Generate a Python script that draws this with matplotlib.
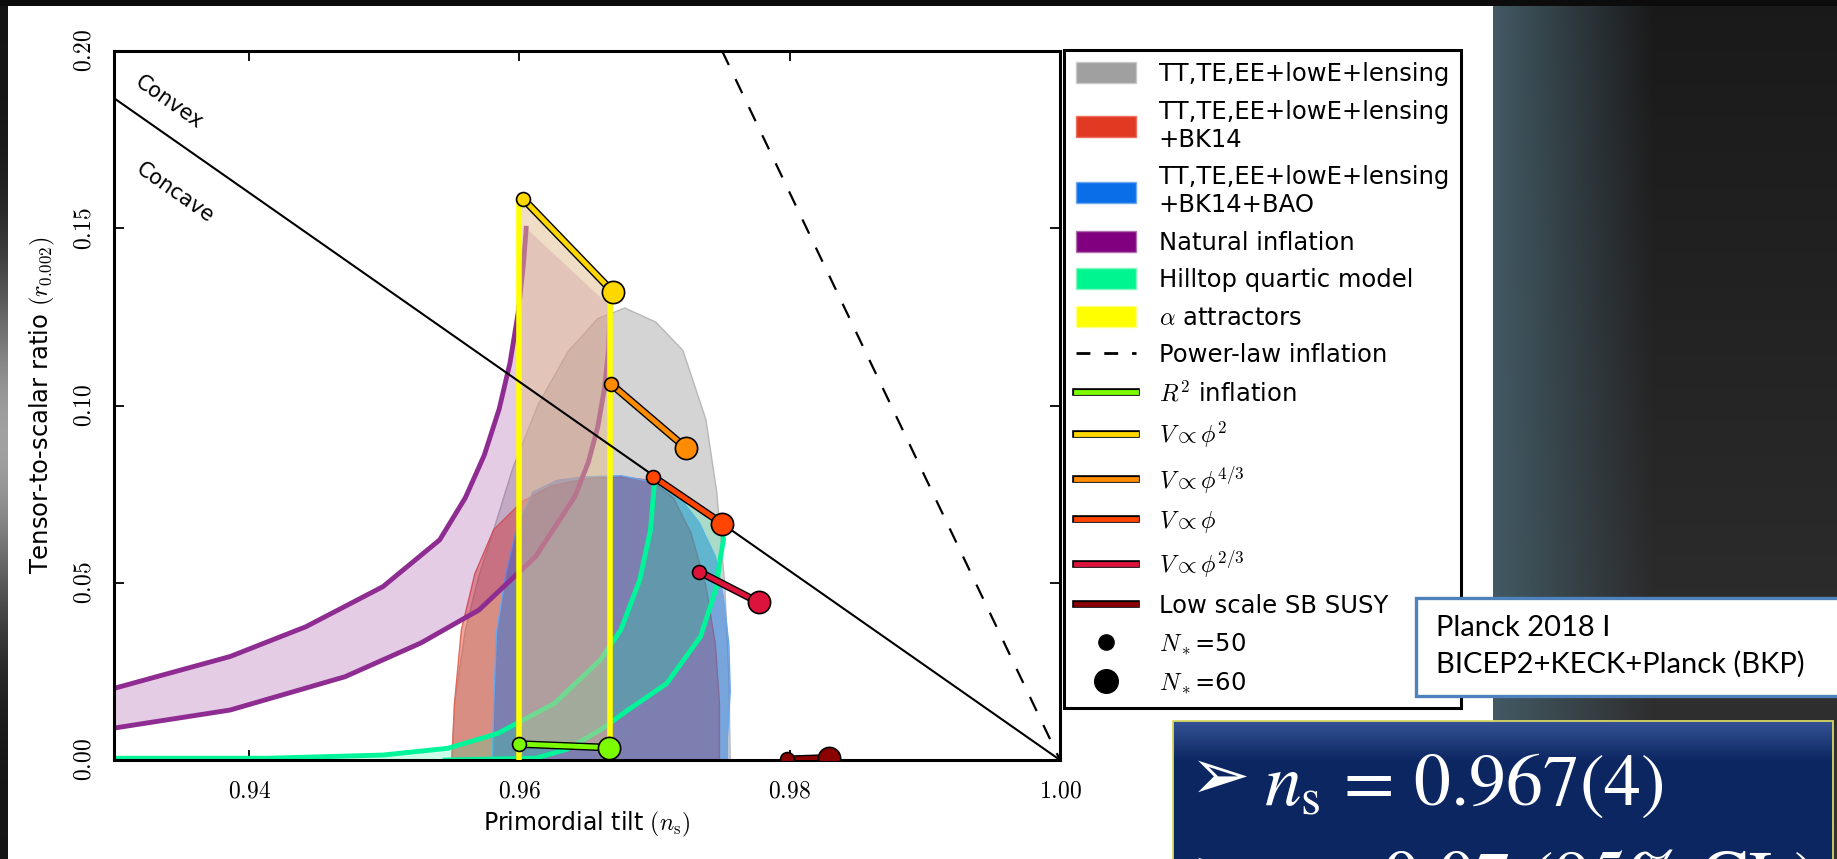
import numpy as np
import matplotlib
matplotlib.use("Agg")
import matplotlib.pyplot as plt
import matplotlib.patheffects as pe
from matplotlib.patches import Patch, Rectangle, Polygon
from matplotlib.lines import Line2D
from matplotlib.colors import to_rgba
from matplotlib.ticker import FuncFormatter

plt.rcParams['mathtext.fontset'] = 'cm'
plt.rcParams['font.family'] = 'DejaVu Sans'

W, H = 1837, 859

# --- Planck constraint contours, boundary points (n_s, r) ---
gray_ns = [0.9550, 0.9552, 0.9560, 0.9570, 0.9581, 0.9595, 0.9614, 0.9636, 0.9658, 0.9678,
           0.9701, 0.9721, 0.9738, 0.9746, 0.9752, 0.9755, 0.9756]
gray_r = [0.0, 0.0161, 0.0366, 0.0520, 0.0650, 0.0822, 0.1004, 0.1152, 0.1245, 0.1275,
          0.1235, 0.1155, 0.0960, 0.0756, 0.0490, 0.0227, 0.0]

red_ns = [0.9550, 0.9552, 0.9557, 0.9567, 0.9581, 0.9602, 0.9623, 0.9652, 0.9675,
          0.9697, 0.9714, 0.9727, 0.9738, 0.9745, 0.9748, 0.9748]
red_r = [0.0, 0.0161, 0.0366, 0.0525, 0.0650, 0.0729, 0.0772, 0.0795, 0.0799,
         0.0789, 0.0739, 0.0640, 0.0491, 0.0326, 0.0161, 0.0]

blue_ns = [0.9580, 0.9581, 0.9583, 0.9590, 0.9599, 0.9610, 0.9628, 0.9649, 0.9675,
           0.9702, 0.9719, 0.9733, 0.9745, 0.9751, 0.9755, 0.9756, 0.9754, 0.9754]
blue_r = [0.0, 0.0161, 0.0359, 0.0525, 0.0673, 0.0756, 0.0789, 0.0799, 0.0802,
          0.0782, 0.0739, 0.0670, 0.0574, 0.0459, 0.0326, 0.0194, 0.0062, 0.0]

# --- natural inflation band ---
nat_a_ns = [0.9300, 0.9386, 0.9442, 0.9499, 0.9541, 0.9560, 0.9574, 0.9585, 0.9593, 0.9599, 0.9603, 0.9605]
nat_a_r = [0.0202, 0.0292, 0.0376, 0.0489, 0.0621, 0.0740, 0.0860, 0.0990, 0.1120, 0.1260, 0.1400, 0.1500]
nat_b_ns = [0.9300, 0.9386, 0.9471, 0.9527, 0.9570, 0.9612, 0.9641, 0.9651, 0.9658, 0.9663, 0.9666, 0.9667]
nat_b_r = [0.0090, 0.0141, 0.0235, 0.0330, 0.0423, 0.0574, 0.0743, 0.0840, 0.0940, 0.1050, 0.1160, 0.1280]

# --- hilltop quartic band ---
hill_a_ns = [0.9300, 0.9414, 0.9499, 0.9547, 0.9584, 0.9626, 0.9660, 0.9675, 0.9689, 0.9697, 0.9700]
hill_a_r = [0.0005, 0.0005, 0.0014, 0.0033, 0.0075, 0.0160, 0.0283, 0.0367, 0.0508, 0.0649, 0.0790]
hill_b_ns = [0.9545, 0.9612, 0.9635, 0.9660, 0.9680, 0.9709, 0.9734, 0.9746, 0.9748, 0.9751, 0.9750]
hill_b_r = [0.0, 0.0005, 0.0030, 0.0085, 0.0140, 0.0216, 0.0348, 0.0489, 0.0555, 0.0621, 0.0658]

# --- alpha attractors (N=50, N=60) ---
attr_ns = [0.9600, 0.9667]
attr_r_low = [0.0, 0.0]
attr_r_high = [0.158, 0.132]

# --- reference lines ---
powerlaw_ns = [0.975, 1.0]
powerlaw_r = [0.20, 0.0]
convex_ns = [0.93, 1.0]
convex_r = [0.1867, 0.0]

# --- single-field models: N*=50 and N*=60 points ---
model_labels = [r'$R^2$ inflation', r'$V\propto\phi^2$', r'$V\propto\phi^{4/3}$',
                r'$V\propto\phi$', r'$V\propto\phi^{2/3}$', 'Low scale SB SUSY']
model_colors = ['#7cfc00', '#ffd700', '#ff8c00', '#ff4500', '#dc143c', '#8b0000']
model_ns50 = [0.9600, 0.9603, 0.9668, 0.9699, 0.9733, 0.9798]
model_r50 = [0.0045, 0.1582, 0.1060, 0.0799, 0.0531, 0.0002]
model_ns60 = [0.9666, 0.9669, 0.9723, 0.9750, 0.9777, 0.9829]
model_r60 = [0.0035, 0.1321, 0.0881, 0.0667, 0.0445, 0.0006]

xticks = [0.94, 0.96, 0.98, 1.00]
yticks = [0.00, 0.05, 0.10, 0.15, 0.20]

fig = plt.figure(figsize=(W / 100, H / 100), dpi=100)

# slide background: dark frame, hazy right side, white panel, navy box
bg = np.zeros((H, W, 3))
yy = np.arange(H)[:, None]
xx = np.arange(W)[None, :]
dark = 0.10 + 0.10 * (yy / H)
bg[:] = dark[..., None]
haze = np.array([0.26, 0.35, 0.39])
t = np.clip((xx - 1493) / 160.0, 0, 1)[..., None]
right = haze * (1 - t) + dark[..., None] * t
bg[:, 1493:] = right[:, 1493:]
left_gray = 0.08 + 0.55 * np.exp(-((yy - 440) / 170.0) ** 2)
bg[:, :8] = np.repeat(left_gray[..., None], 3, axis=2)
bg[:6, :] = 0.05
bg[6:, 8:1493] = 1.0
navy_top = np.array([0.20, 0.32, 0.58])
navy = np.array([0.045, 0.15, 0.38])
s = np.clip((yy[721:] - 721) / 40.0, 0, 1)[..., None]
bg[721:, 1173:1833] = navy_top * (1 - s) + navy * s

bgax = fig.add_axes([0, 0, 1, 1], zorder=-5)
bgax.imshow(bg, extent=(0, W, 0, H), origin='upper', aspect='auto', interpolation='bilinear')
bgax.set_axis_off()

ax = fig.add_axes([114 / W, (H - 760) / H, 946 / W, 709 / H])
ax.set_facecolor('white')
ax.set_xlim(0.93, 1.0)
ax.set_ylim(0, 0.2)


def region(ns, r, color, alpha, ec, z):
    pts = np.column_stack([ns, r])
    ax.add_patch(Polygon(pts, closed=True, fc=to_rgba(color, alpha),
                         ec=ec, lw=1.0, zorder=z, joinstyle='round'))


region(gray_ns, gray_r, '#a0a0a0', 0.45, '#b8b8b8', 1)
region(red_ns, red_r, '#e03a22', 0.45, '#e06a5a', 1.1)
region(blue_ns, blue_r, '#0c6de8', 0.45, '#6aa6ee', 1.2)

# natural inflation
ax.fill(nat_a_ns + nat_b_ns[::-1], nat_a_r + nat_b_r[::-1], fc=to_rgba('#800080', 0.2), ec='none', zorder=2)
ax.plot(nat_a_ns, nat_a_r, color='#8e2c92', lw=3.5, zorder=2.1, solid_joinstyle='round')
ax.plot(nat_b_ns, nat_b_r, color='#8e2c92', lw=3.5, zorder=2.1, solid_joinstyle='round')

# hilltop quartic
ax.fill(hill_a_ns + hill_b_ns[::-1], hill_a_r + hill_b_r[::-1], fc=to_rgba('#00fa9a', 0.2), ec='none', zorder=2)
ax.plot(hill_a_ns, hill_a_r, color='#00f59a', lw=3.5, zorder=2.2, solid_joinstyle='round')
ax.plot(hill_b_ns, hill_b_r, color='#00f59a', lw=3.5, zorder=2.2, solid_joinstyle='round')

# alpha attractors
attr_poly = [(attr_ns[0], model_r50[0]), (attr_ns[0], attr_r_high[0]),
             (attr_ns[1], attr_r_high[1]), (attr_ns[1], model_r60[0])]
ax.add_patch(Polygon(attr_poly, closed=True, fc=to_rgba('#e2bd8c', 0.5), ec='none', zorder=2.5))
for ns, lo, hi in zip(attr_ns, attr_r_low, attr_r_high):
    ax.plot([ns, ns], [lo, hi], color='#ffff00', lw=4, zorder=3)

ax.plot(convex_ns, convex_r, color='black', lw=1.5, zorder=3.5)
ax.plot(powerlaw_ns, powerlaw_r, color='black', lw=1.6, ls=(0, (7, 7)), zorder=3.5)
ax.text(0.9341, 0.1856, 'Convex', rotation=-35, ha='center', va='center', fontsize=15)
ax.text(0.9345, 0.1599, 'Concave', rotation=-35, ha='center', va='center', fontsize=15)

outline = [pe.Stroke(linewidth=5.5, foreground='black'), pe.Normal()]
for c, x0, y0, x1, y1 in zip(model_colors, model_ns50, model_r50, model_ns60, model_r60):
    ax.plot([x0, x1], [y0, y1], color=c, lw=3.5, path_effects=outline, zorder=5)
    ax.plot(x0, y0, 'o', ms=10, mfc=c, mec='black', mew=1.2, zorder=6)
    ax.plot(x1, y1, 'o', ms=16, mfc=c, mec='black', mew=1.2, zorder=6)

fmt = FuncFormatter(lambda v, p: f'${v:.2f}$')
ax.set_xticks(xticks)
ax.set_yticks(yticks)
ax.xaxis.set_major_formatter(fmt)
ax.yaxis.set_major_formatter(fmt)
ax.tick_params(direction='in', length=7, width=1.3, top=True, right=True, labelsize=17, pad=13)
ax.tick_params(axis='y', labelrotation=90)
plt.setp(ax.get_yticklabels(), va='center')
for sp in ax.spines.values():
    sp.set_linewidth(2.2)

ax.set_xlabel(r'Primordial tilt $(n_\mathrm{s})$', fontsize=17)
ax.xaxis.set_label_coords(0.5, -0.07)
ax.set_ylabel(r'Tensor-to-scalar ratio $(r_{0.002})$', fontsize=17.5, va='center')
ax.yaxis.set_label_coords(-0.076, 0.5)

handles = [
    Patch(fc='#a0a0a0', ec='#c8c8c8', label='TT,TE,EE+lowE+lensing'),
    Patch(fc='#e03a22', ec='#f07060', label='TT,TE,EE+lowE+lensing\n+BK14'),
    Patch(fc='#0a6ee8', ec='#70a8f0', label='TT,TE,EE+lowE+lensing\n+BK14+BAO'),
    Patch(fc='#800080', ec='#b070b0', label='Natural inflation'),
    Patch(fc='#00f590', ec='#80f8c0', label='Hilltop quartic model'),
    Patch(fc='#ffff00', ec='#ffff80', label=r'$\alpha$ attractors'),
    Line2D([], [], color='black', lw=2, ls=(0, (5, 5)), label='Power-law inflation'),
]
for c, lab in zip(model_colors, model_labels):
    handles.append(Line2D([], [], color=c, lw=3.5, path_effects=outline, label=lab))
handles.append(Line2D([], [], ls='none', marker='o', ms=11, mfc='black', mec='black', label=r'$N_*$=50'))
handles.append(Line2D([], [], ls='none', marker='o', ms=17, mfc='black', mec='black', label=r'$N_*$=60'))

leg = fig.legend(handles=handles, loc='upper left', bbox_to_anchor=(1064 / W, 1 - 50 / H),
                 bbox_transform=fig.transFigure, borderaxespad=0, fontsize=17.5,
                 handlelength=2.45, handleheight=0.95, handletextpad=0.95,
                 labelspacing=0.56, borderpad=0.5, fancybox=False, framealpha=1)
leg.get_frame().set_edgecolor('black')
leg.get_frame().set_linewidth(2.2)
leg.set_zorder(5)

# annotation boxes on the slide
fig.add_artist(Rectangle((1416 / W, (H - 696) / H), (1860 - 1416) / W, 98 / H,
                         transform=fig.transFigure, fc='white', ec='#4f81bd', lw=2.4, zorder=6))
fig.text(1436 / W, 1 - 628 / H, 'Planck 2018 I', family='Lato', fontsize=21, va='center', zorder=7)
fig.text(1436 / W, 1 - 664 / H, 'BICEP2+KECK+Planck (BKP)', family='Lato', fontsize=21, va='center', zorder=7)

fig.add_artist(Rectangle((1173 / W, -0.05), (1833 - 1173) / W, (H - 721) / H + 0.05,
                         transform=fig.transFigure, fill=False, ec='#d8d860', lw=1.3, zorder=6))
for base_y, formula in [(805, r'$n_\mathrm{s}\,=\,0.967(4)$'), (902, r'$r\,<\,0.07\ (95\%\ \mathrm{CL})$')]:
    fig.text(1190 / W, 1 - (base_y - 6) / H, '➢', color='white', fontsize=52, family='DejaVu Sans',
             va='baseline', zorder=7)
    fig.text(1264 / W, 1 - base_y / H, formula, color='white', fontsize=53,
             math_fontfamily='stix', va='baseline', zorder=7)

fig.savefig('out.png', dpi=100)
